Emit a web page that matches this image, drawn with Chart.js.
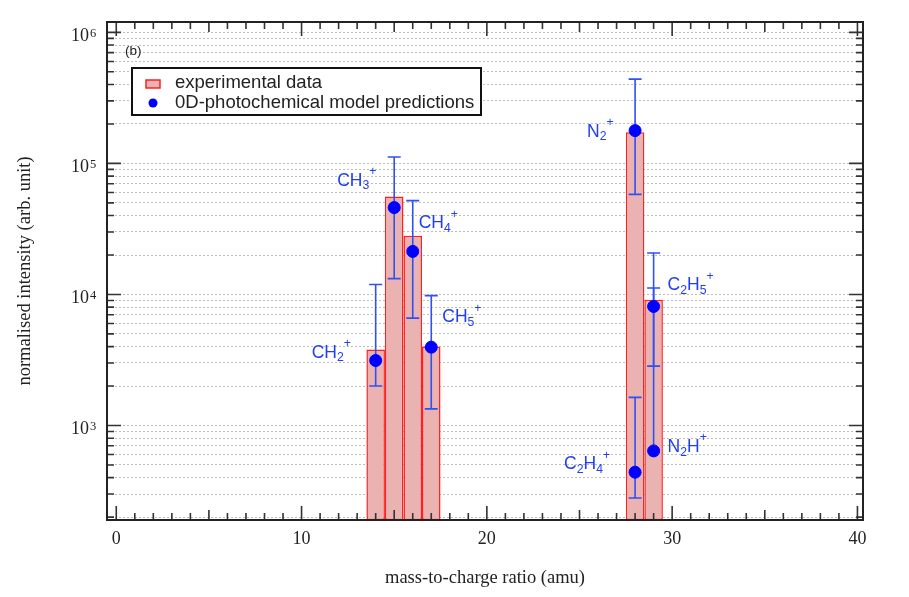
<!DOCTYPE html>
<html><head><meta charset="utf-8">
<script src="https://cdn.jsdelivr.net/npm/chart.js@4.4.1/dist/chart.umd.min.js"></script>
<style>html,body{margin:0;background:#fff}#wrap{width:909px;height:597px}</style>
</head><body><div id="wrap"><canvas id="c"></canvas></div>
<script>
// measured ion intensities (bars) and 0D model predictions (points + error bars)
const MZ = [14, 15, 16, 17, 28, 29];
const EXPERIMENT = [3800, 56000, 28000, 4000, 173000, 9100];
const IONS = ['CH_2^+', 'CH_3^+', 'CH_4^+', 'CH_5^+', 'N_2^+', 'C_2H_4^+', 'C_2H_5^+', 'N_2H^+'];
const ION_MZ = [14, 15, 16, 17, 28, 28, 29, 29];
const MODEL = [3130, 46000, 21300, 3960, 178000, 440, 8100, 640];
const MODEL_LO = [2000, 13200, 6600, 1340, 58000, 280, 2840, 640];
const MODEL_HI = [11900, 112000, 52000, 9800, 440000, 1640, 20700, 11200];
const X_LABELS = [0, 10, 20, 30, 40];
const Y_EXPONENTS = [3, 4, 5, 6];

const INK = '#222', BLUE = '#0000FF', EBAR = '#3050F0', LBL = '#2040F0';
const PINK = '#EBB2B2', RED = '#FF2020';
const SERIF = '"Liberation Serif","Times New Roman",serif';
const SANS = '"Liberation Sans",Arial,Helvetica,sans-serif';
// label nudges (px) from each model point
const NUDGE = [[-64,-3],[-57,-22],[6,-23],[11,-25],[-48,6],[-71,-3],[14,-16],[14,1]];

const isPow10 = v => Math.abs(Math.log10(v) - Math.round(Math.log10(v))) < 1e-9;

function chem(ctx, str, x, y, size) {
  let i = 0;
  while (i < str.length) {
    let ch = str[i], mode = '';
    if (ch === '_' || ch === '^') { mode = ch; ch = str[i + 1]; i += 2; } else i++;
    const s = mode ? size * 0.7 : size;
    ctx.font = `${s}px ${SANS}`;
    const dy = mode === '_' ? size * 0.22 : mode === '^' ? -size * 0.6 : 0;
    ctx.fillText(ch, x, y + dy);
    x += ctx.measureText(ch).width;
  }
}

const decor = {
  id: 'decor',
  afterDatasetDraw(chart, args) {
    if (args.index !== 0) return;
    const {ctx, chartArea: a, scales: {x, y}} = chart;
    ctx.save();
    ctx.beginPath(); ctx.rect(a.left, a.top, a.right - a.left, a.bottom - a.top); ctx.clip();
    ctx.strokeStyle = EBAR; ctx.lineWidth = 1.6;
    ION_MZ.forEach((m, i) => {
      const px = x.getPixelForValue(m);
      const lo = y.getPixelForValue(MODEL_LO[i]), hi = y.getPixelForValue(MODEL_HI[i]);
      ctx.beginPath();
      ctx.moveTo(px, lo); ctx.lineTo(px, hi);
      ctx.moveTo(px - 6.5, hi); ctx.lineTo(px + 6.5, hi);
      if (MODEL_LO[i] !== MODEL[i]) { ctx.moveTo(px - 6.5, lo); ctx.lineTo(px + 6.5, lo); }
      ctx.stroke();
    });
    ctx.restore();
  },
  afterDraw(chart) {
    const {ctx, chartArea: a, scales: {x, y}} = chart;
    ctx.save();
    // ticks, inward on all four sides
    ctx.strokeStyle = '#333'; ctx.lineWidth = 1.6;
    ctx.beginPath();
    x.ticks.forEach(t => {
      const v = t.value, px = x.getPixelForValue(v);
      const len = v % 10 === 0 ? 14 : v % 5 === 0 ? 10 : 7;
      ctx.moveTo(px, a.bottom); ctx.lineTo(px, a.bottom - len);
      ctx.moveTo(px, a.top); ctx.lineTo(px, a.top + len);
    });
    y.ticks.forEach(t => {
      const py = y.getPixelForValue(t.value);
      if (py > a.bottom - 1 || py < a.top + 1) return;
      const len = isPow10(t.value) ? 14 : 7;
      ctx.moveTo(a.left, py); ctx.lineTo(a.left + len, py);
      ctx.moveTo(a.right, py); ctx.lineTo(a.right - len, py);
    });
    ctx.stroke();
    ctx.lineWidth = 2; ctx.strokeStyle = INK;
    ctx.strokeRect(a.left, a.top, a.right - a.left, a.bottom - a.top);

    // exponents of the y labels
    ctx.fillStyle = INK; ctx.textAlign = 'left'; ctx.textBaseline = 'alphabetic';
    ctx.font = `12.5px ${SERIF}`;
    Y_EXPONENTS.forEach(e => ctx.fillText(String(e), a.left - 17, y.getPixelForValue(10 ** e) + 5));

    // ion labels
    ctx.fillStyle = LBL;
    IONS.forEach((s, i) => {
      const px = x.getPixelForValue(ION_MZ[i]), py = y.getPixelForValue(MODEL[i]);
      chem(ctx, s, px + NUDGE[i][0], py + NUDGE[i][1], 17.5);
    });

    // panel tag
    ctx.fillStyle = INK; ctx.font = `13.5px ${SANS}`;
    ctx.fillText('(b)', a.left + 18, a.top + 33);

    // legend box
    const L = a.left + 25, T = a.top + 46;
    ctx.fillStyle = '#fff'; ctx.fillRect(L, T, 349, 47);
    ctx.strokeStyle = '#111'; ctx.lineWidth = 2; ctx.strokeRect(L, T, 349, 47);
    ctx.fillStyle = PINK; ctx.fillRect(L + 14, T + 12, 14, 8);
    ctx.strokeStyle = RED; ctx.lineWidth = 1.5; ctx.strokeRect(L + 14, T + 12, 14, 8);
    ctx.fillStyle = BLUE; ctx.beginPath(); ctx.arc(L + 21, T + 35, 4.5, 0, Math.PI * 2); ctx.fill();
    ctx.fillStyle = INK; ctx.font = `18.5px ${SANS}`;
    ctx.fillText('experimental data', L + 43, T + 20);
    ctx.fillText('0D-photochemical model predictions', L + 43, T + 40);
    ctx.restore();
  }
};

new Chart(document.getElementById('c'), {
  type: 'bar',
  data: {
    datasets: [
      {
        label: 'experimental data',
        data: MZ.map((m, i) => ({x: m, y: EXPERIMENT[i]})),
        backgroundColor: PINK, borderColor: RED, borderWidth: 1.5, borderSkipped: false,
        barPercentage: 1, categoryPercentage: 1, inflateAmount: 0, order: 2
      },
      {
        type: 'scatter',
        label: '0D-photochemical model predictions',
        data: ION_MZ.map((m, i) => ({x: m, y: MODEL[i]})),
        backgroundColor: BLUE, borderColor: BLUE, pointRadius: 6, pointHoverRadius: 6, order: 1
      }
    ]
  },
  options: {
    responsive: true, maintainAspectRatio: false, animation: false,
    layout: {padding: {top: 22, right: 46, left: 0, bottom: 0}},
    plugins: {legend: {display: false}, tooltip: {enabled: false}},
    scales: {
      x: {
        type: 'linear', min: -0.5, max: 40.3, offset: false,
        afterBuildTicks: s => { const t = []; for (let v = 0; v <= 40; v++) t.push({value: v}); s.ticks = t; },
        afterFit: s => { s.height = 77; s.paddingLeft = 0; s.paddingRight = 0; },
        grid: {display: false, drawTicks: false},
        border: {display: false},
        ticks: {
          autoSkip: false, maxRotation: 0, padding: 8, color: INK,
          font: {family: SERIF, size: 18},
          callback: v => X_LABELS.includes(v) ? String(v) : ''
        },
        title: {display: true, text: 'mass-to-charge ratio (amu)', color: INK,
          font: {family: SERIF, size: 18.5}, padding: {top: 0, bottom: 8}}
      },
      y: {
        type: 'logarithmic', min: 190, max: 1.2e6,
        afterBuildTicks: s => {
          const t = [];
          for (let e = 2; e <= 6; e++) for (let k = 1; k <= 9; k++) {
            const v = k * 10 ** e;
            if (v >= s.min && v <= s.max) t.push({value: v, major: k === 1});
          }
          s.ticks = t;
        },
        afterFit: s => { s.width = 107; s.paddingTop = 0; s.paddingBottom = 0; },
        grid: {color: '#bdbdbd', lineWidth: 1, drawTicks: false},
        border: {display: false, dash: [2, 2]},
        ticks: {
          autoSkip: false, padding: 18, labelOffset: 4, color: INK,
          font: {family: SERIF, size: 18},
          callback: v => (isPow10(v) && Y_EXPONENTS.includes(Math.round(Math.log10(v)))) ? '10' : ''
        },
        title: {display: true, text: 'normalised intensity (arb. unit)', color: INK,
          font: {family: SERIF, size: 18.5}, padding: {top: 14, bottom: 0}}
      }
    }
  },
  plugins: [decor]
});
</script>
</body></html>
